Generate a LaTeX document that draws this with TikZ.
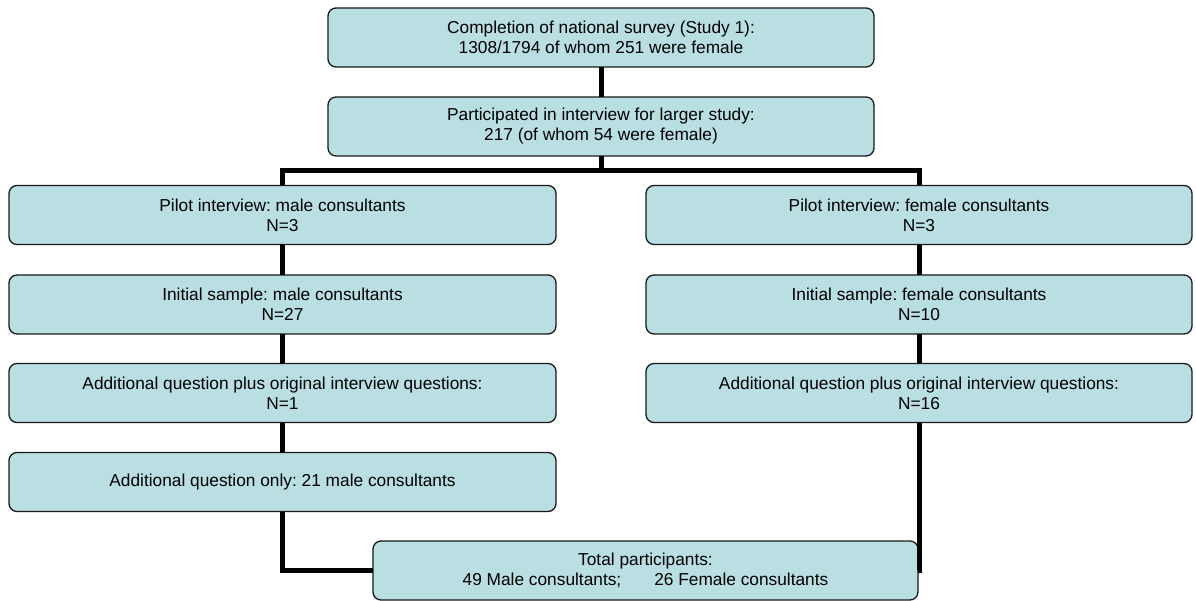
\documentclass[tikz,border=0pt]{standalone}
\usepackage{fontspec}
\setmainfont{Liberation Sans}
\frenchspacing
\definecolor{boxfill}{RGB}{185,223,227}
\definecolor{boxline}{RGB}{25,25,25}
\begin{document}
\begin{tikzpicture}[x=1pt,y=-1pt,
  stagebox/.style={draw=boxline, fill=boxfill, line width=1.3pt,
    rounded corners=8pt, minimum height=59pt, inner sep=0pt, outer sep=0pt,
    align=center, font=\fontsize{17.3}{20}\selectfont},
  wide/.style={stagebox, minimum width=546pt},
  link/.style={line width=5pt, line join=miter, line cap=butt}]
\useasboundingbox (0,0) rectangle (1196,601);

% study-wide stages
\node[wide] (survey) at (601,37.5) {Completion of national survey (Study 1):\\1308/1794 of whom 251 were female};
\node[wide] (larger) at (601,126.5) {Participated in interview for larger study:\\217 (of whom 54 were female)};

% male branch
\node[stagebox, minimum width=547pt] (mpilot) at (282.5,215) {Pilot interview: male consultants\\N=3};
\node[stagebox, minimum width=547pt] (minit) at (282.5,304.5) {Initial sample: male consultants\\N=27};
\node[stagebox, minimum width=547pt] (madd) at (282.5,393) {Additional question plus original interview questions:\\N=1};
\node[stagebox, minimum width=547pt] (monly) at (282.5,482) {Additional question only: 21 male consultants};

% female branch
\node[wide] (fpilot) at (919,215) {Pilot interview: female consultants\\N=3};
\node[wide] (finit) at (919,304.5) {Initial sample: female consultants\\N=10};
\node[wide] (fadd) at (919,393) {Additional question plus original interview questions:\\N=16};

% totals
\node[stagebox, minimum width=545pt] (total) at (645.5,570.5) {Total participants:\\49 Male consultants;\hspace{33pt}26 Female consultants};

% connectors
\coordinate (split) at (601,170.5);
\draw[link] (survey) -- (larger);
\draw[link] (larger.south) -- (split);
\draw[link] (mpilot.north) |- (split) -| (fpilot.north);
\draw[link] (mpilot) -- (minit);
\draw[link] (minit) -- (madd);
\draw[link] (madd) -- (monly);
\draw[link] (fpilot) -- (finit);
\draw[link] (finit) -- (fadd);
\draw[link] (monly.south) |- (total.west);
\draw[link] (fadd.south) |- (total.east);
\end{tikzpicture}
\end{document}
